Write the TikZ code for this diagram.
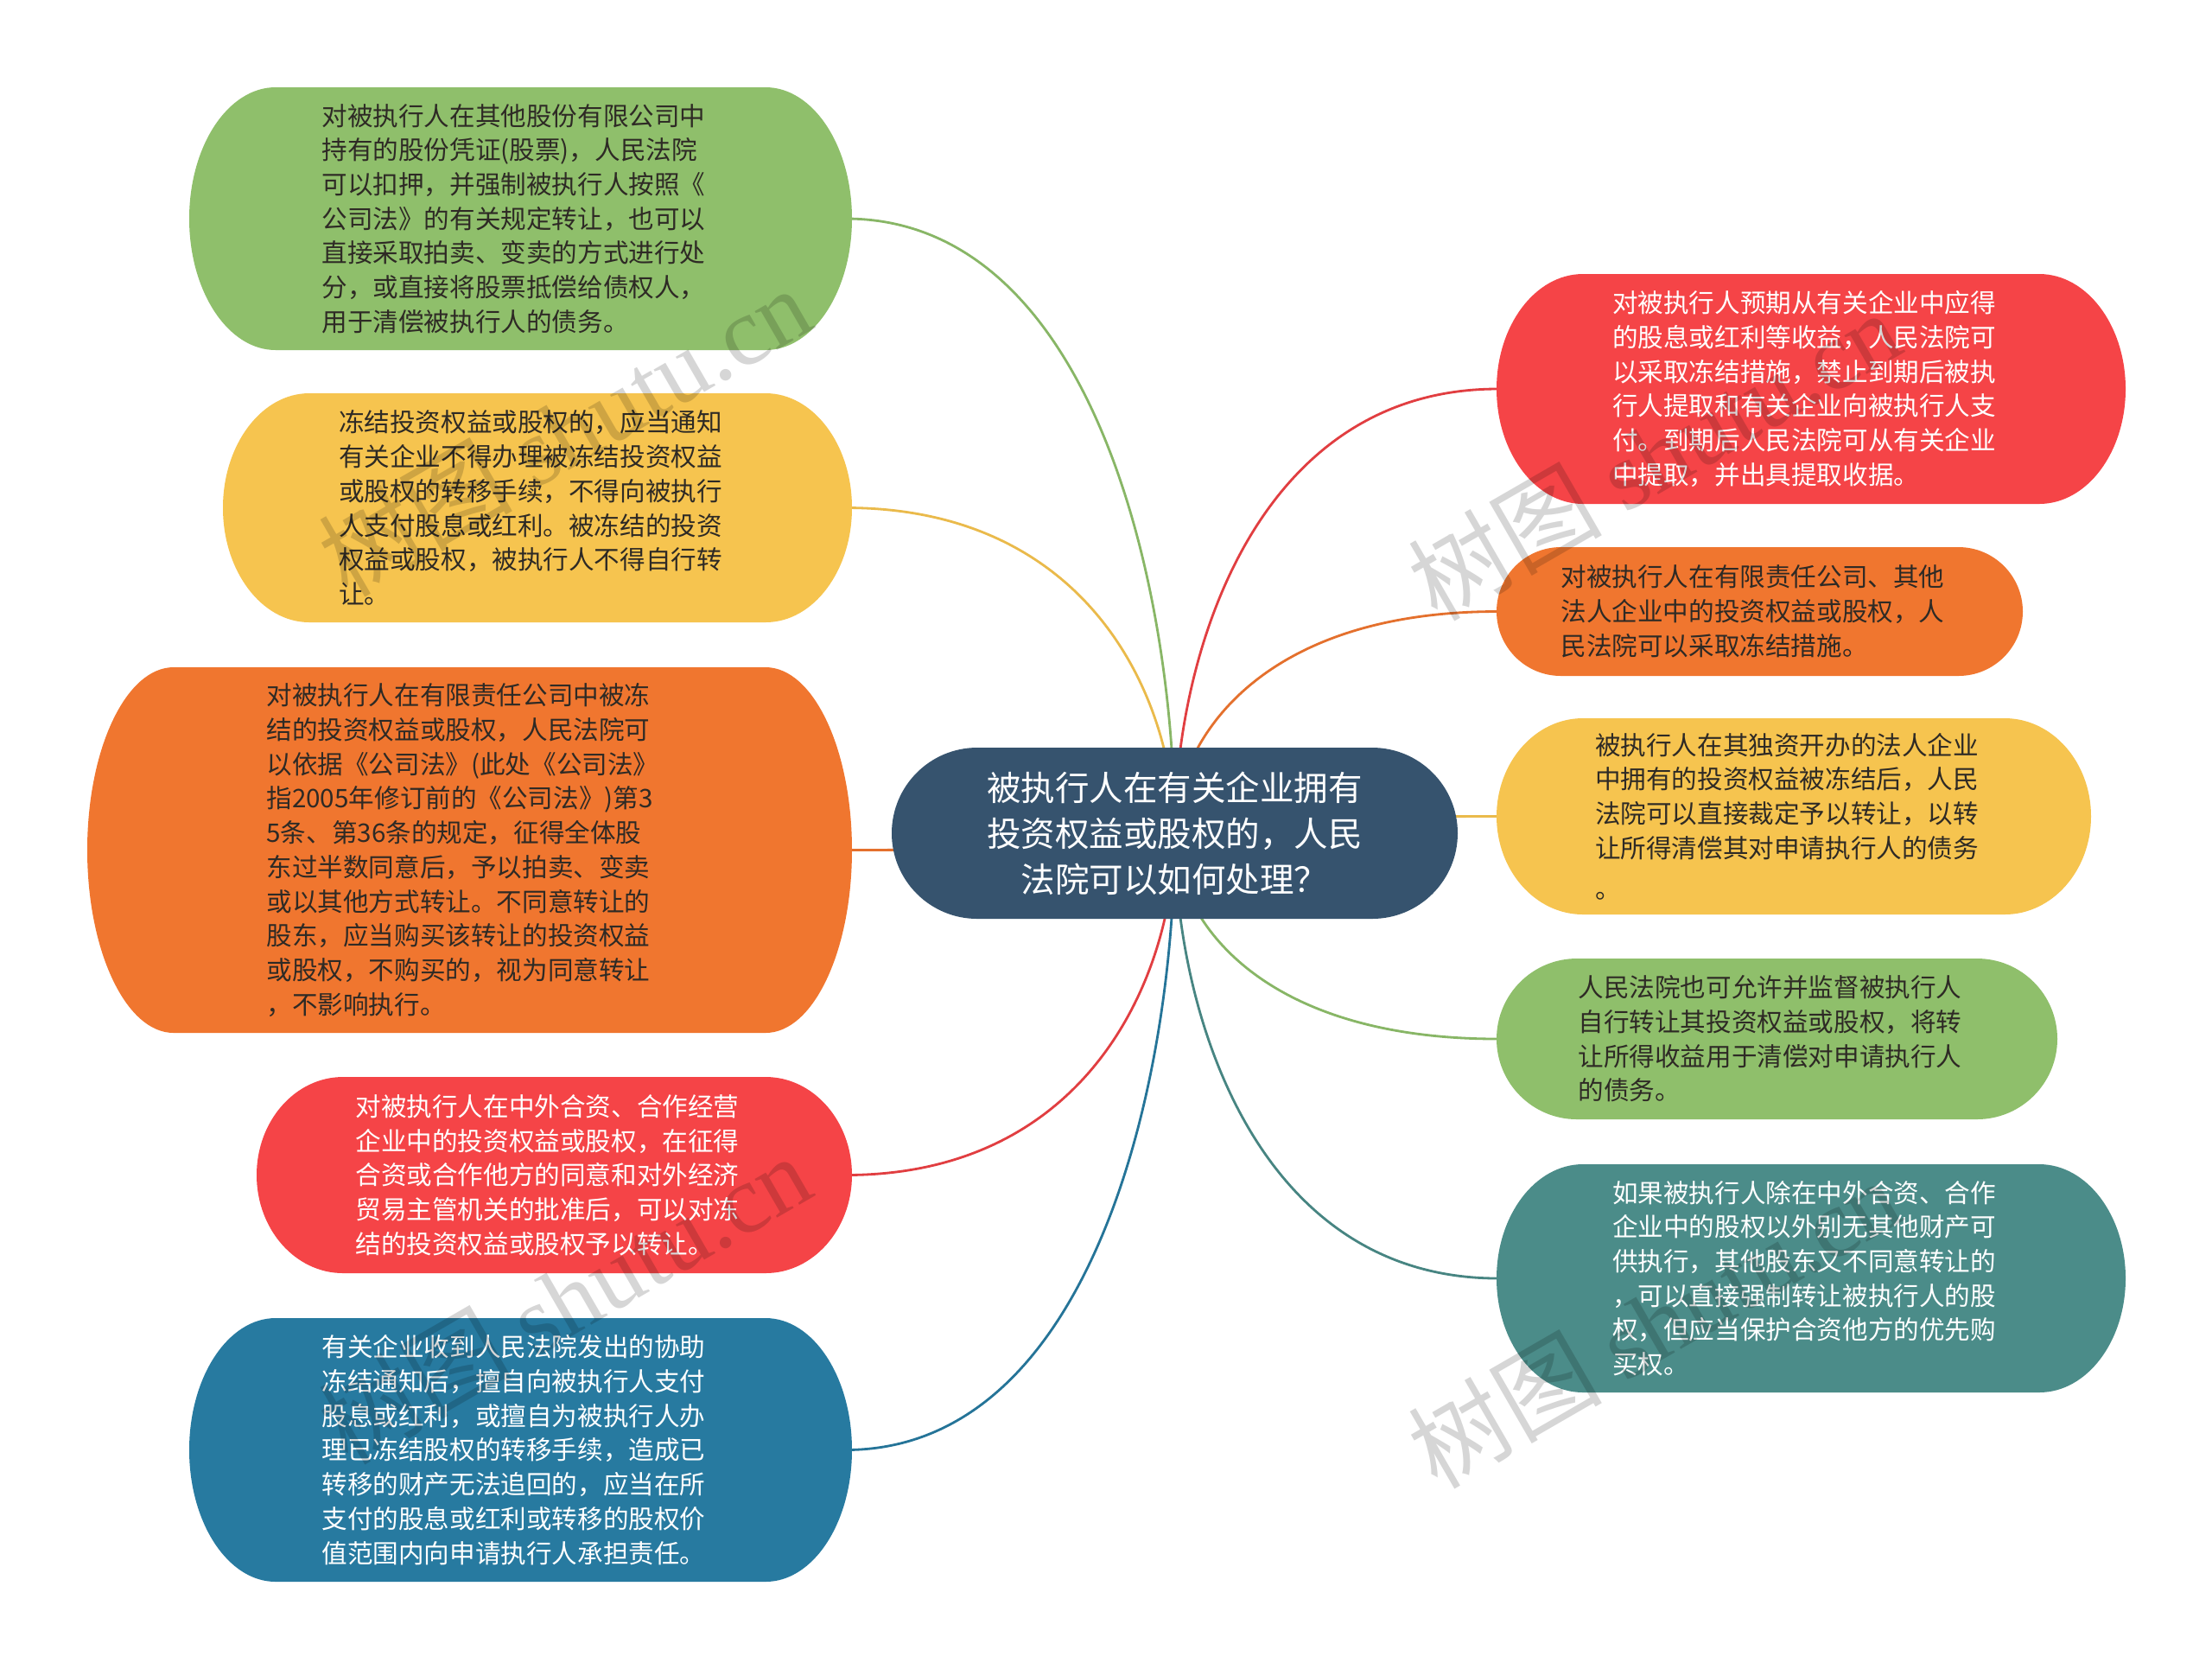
\documentclass[tikz,border=0pt]{standalone}
\usepackage{fontspec}
\setmainfont{Noto Sans CJK SC}
\newfontfamily\wmlatin{Liberation Serif}
\usetikzlibrary{calc}
\pgfdeclarelayer{bg}
\pgfsetlayers{bg,main}
\definecolor{fgreen}{HTML}{8FBF6B}
\definecolor{fyellow}{HTML}{F6C44F}
\definecolor{forange}{HTML}{F0762F}
\definecolor{fred}{HTML}{F54447}
\definecolor{fblue}{HTML}{277AA0}
\definecolor{fteal}{HTML}{4B8C89}
\definecolor{fnavy}{HTML}{36536E}
\definecolor{darktxt}{HTML}{2E2A25}
\tikzset{
  txt/.style={align=left, font=\fontsize{8.42}{11.3}\selectfont, inner sep=0pt},
  dark/.style={text=darktxt, xshift=-0.08cm},
  light/.style={text=white, xshift=-0.08cm},
  ctxt/.style={align=center, font=\fontsize{11.24}{15.1}\selectfont, text=white},
  link/.style={line width=0.8pt},
  wm/.style={font=\fontsize{32}{32}\selectfont, text=black, text opacity=0.16, rotate=30, inner sep=0pt},
}
% name, fill, text style, left, top, right, bottom (pixels, y down), text
\newcommand{\bubble}[8]{%
  \pgfmathsetmacro{\BXl}{#4/100}%
  \pgfmathsetmacro{\BXr}{#6/100}%
  \pgfmathsetmacro{\BXt}{-#5/100}%
  \pgfmathsetmacro{\BXb}{-#7/100}%
  \pgfmathsetmacro{\BXry}{(\BXt-\BXb)/2}%
  \pgfmathsetmacro{\BXrx}{min(1,\BXry)}%
  \pgfmathsetmacro{\BXw}{\BXr-\BXl}%
  \pgfmathsetmacro{\BXh}{\BXt-\BXb}%
  \fill[#2] (\BXl+\BXrx,\BXt) -- (\BXr-\BXrx,\BXt)
    arc[start angle=90,end angle=-90,x radius=\BXrx cm,y radius=\BXry cm]
    -- (\BXl+\BXrx,\BXb)
    arc[start angle=270,end angle=90,x radius=\BXrx cm,y radius=\BXry cm] -- cycle;
  \node[txt,#3,minimum width=\BXw cm,minimum height=\BXh cm] (#1) at ({(\BXl+\BXr)/2},{(\BXt+\BXb)/2}) {#8};
}
\newcommand{\linkto}[3]{% color, node anchor, target
  \draw[link,#1] let \p1=(#2), \p2=(#3) in (\p1) .. controls ({\x1+0.75*(\x2-\x1)},\y1) and (\x2,{\y2+0.4*(\y1-\y2)}) .. (\p2);
}
\begin{document}
\begin{tikzpicture}
\useasboundingbox (0,0) rectangle (25.6,-19.3);
\begin{pgfonlayer}{bg}
\fill[white] (0,0) rectangle (25.6,-19.3);
\end{pgfonlayer}

\bubble{c}{fnavy}{ctxt}{1032}{865}{1687}{1063}{被执行人在有关企业拥有\\投资权益或股权的，人民\\法院可以如何处理？}

\bubble{g1}{fgreen}{dark}{219}{101}{986}{405}{对被执行人在其他股份有限公司中\\持有的股份凭证(股票)，人民法院\\可以扣押，并强制被执行人按照《\\公司法》的有关规定转让，也可以\\直接采取拍卖、变卖的方式进行处\\分，或直接将股票抵偿给债权人，\\用于清偿被执行人的债务。}

\bubble{y1}{fyellow}{dark}{258}{455}{986}{720}{冻结投资权益或股权的，应当通知\\有关企业不得办理被冻结投资权益\\或股权的转移手续，不得向被执行\\人支付股息或红利。被冻结的投资\\权益或股权，被执行人不得自行转\\让。}

\bubble{o1}{forange}{dark}{101}{772}{986}{1195}{对被执行人在有限责任公司中被冻\\结的投资权益或股权，人民法院可\\以依据《公司法》(此处《公司法》\\指2005年修订前的《公司法》)第3\\5条、第36条的规定，征得全体股\\东过半数同意后，予以拍卖、变卖\\或以其他方式转让。不同意转让的\\股东，应当购买该转让的投资权益\\或股权，不购买的，视为同意转让\\，不影响执行。}

\bubble{r1}{fred}{light}{297}{1246}{986}{1473}{对被执行人在中外合资、合作经营\\企业中的投资权益或股权，在征得\\合资或合作他方的同意和对外经济\\贸易主管机关的批准后，可以对冻\\结的投资权益或股权予以转让。}

\bubble{b1}{fblue}{light}{219}{1525}{986}{1830}{有关企业收到人民法院发出的协助\\冻结通知后，擅自向被执行人支付\\股息或红利，或擅自为被执行人办\\理已冻结股权的转移手续，造成已\\转移的财产无法追回的，应当在所\\支付的股息或红利或转移的股权价\\值范围内向申请执行人承担责任。}

\bubble{r2}{fred}{light}{1732}{317}{2460}{583}{对被执行人预期从有关企业中应得\\的股息或红利等收益，人民法院可\\以采取冻结措施，禁止到期后被执\\行人提取和有关企业向被执行人支\\付。到期后人民法院可从有关企业\\中提取，并出具提取收据。}

\bubble{o2}{forange}{dark}{1732}{633}{2341}{782}{对被执行人在有限责任公司、其他\\法人企业中的投资权益或股权，人\\民法院可以采取冻结措施。}

\bubble{y2}{fyellow}{dark}{1732}{831}{2420}{1058}{被执行人在其独资开办的法人企业\\中拥有的投资权益被冻结后，人民\\法院可以直接裁定予以转让，以转\\让所得清偿其对申请执行人的债务\\[2pt]。}

\bubble{g2}{fgreen}{dark}{1732}{1109}{2381}{1295}{人民法院也可允许并监督被执行人\\自行转让其投资权益或股权，将转\\让所得收益用于清偿对申请执行人\\的债务。}

\bubble{t2}{fteal}{light}{1732}{1347}{2460}{1611}{如果被执行人除在中外合资、合作\\企业中的股权以外别无其他财产可\\供执行，其他股东又不同意转让的\\，可以直接强制转让被执行人的股\\权，但应当保护合资他方的优先购\\买权。}

\begin{pgfonlayer}{bg}
\linkto{fgreen!95!black}{g1.east}{c.center}
\linkto{fyellow!95!black}{y1.east}{c.center}
\linkto{forange!95!black}{o1.east}{c.center}
\linkto{fred!92!black}{r1.east}{c.center}
\linkto{fblue!95!black}{b1.east}{c.center}
\linkto{fred!92!black}{[xshift=0.1cm]r2.west}{c.center}
\linkto{forange!95!black}{[xshift=0.1cm]o2.west}{c.center}
\linkto{fyellow!95!black}{[xshift=0.1cm]y2.west}{c.center}
\linkto{fgreen!95!black}{[xshift=0.1cm]g2.west}{c.center}
\linkto{fteal!95!black}{[xshift=0.1cm]t2.west}{c.center}
\end{pgfonlayer}

\node[wm] (w1) at (6.53,-4.98) {树图 {\wmlatin shutu.cn}};
\node[wm] (w2) at (6.53,-15.02) {树图 {\wmlatin shutu.cn}};
\node[wm] (w3) at (19.14,-5.26) {树图 {\wmlatin shutu.cn}};
\node[wm] (w4) at (19.14,-15.30) {树图 {\wmlatin shutu.cn}};
\end{tikzpicture}
\end{document}
